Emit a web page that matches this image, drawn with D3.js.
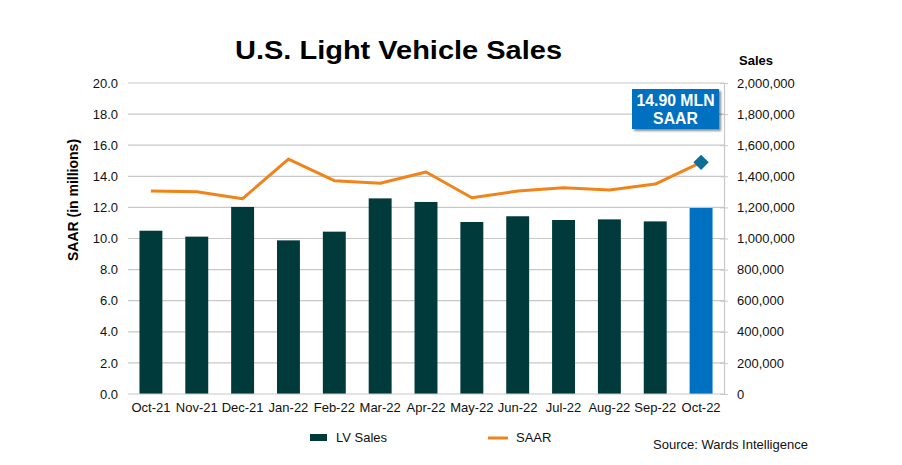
<!DOCTYPE html>
<html><head><meta charset="utf-8">
<script src="https://cdn.jsdelivr.net/npm/d3@7"></script>
<style>body{margin:0;background:#fff}svg{display:block;font-family:"Liberation Sans",Arial,sans-serif}</style>
</head><body><svg id="c" width="902" height="465"></svg>
<script>
const categories=["Oct-21","Nov-21","Dec-21","Jan-22","Feb-22","Mar-22","Apr-22","May-22","Jun-22","Jul-22","Aug-22","Sep-22","Oct-22"];
const lvSales=[1050000,1012000,1203000,988000,1044000,1258000,1235000,1106000,1143000,1119000,1123000,1110000,1196000];
const saar=[13.05,13.01,12.56,15.11,13.72,13.55,14.28,12.62,13.05,13.27,13.12,13.50,14.90];
const leftTicks=[0,2,4,6,8,10,12,14,16,18,20];
const rightTicks=[0,200000,400000,600000,800000,1000000,1200000,1400000,1600000,1800000,2000000];
const calloutText=["14.90 MLN","SAAR"];

const svg=d3.select("#c");
const L=128,R=724,T=83,B=394;
const x=d3.scaleBand().domain(categories).range([L,R]).paddingInner(0.5).paddingOuter(0.25);
const xc=d=>x(d)+x.bandwidth()/2;
const yL=d3.scaleLinear().domain([0,20]).range([B,T]);
const yR=d3.scaleLinear().domain([0,2000000]).range([B,T]);

// gridlines
svg.append("g").selectAll("line").data(leftTicks.filter(d=>d>0)).join("line")
  .attr("x1",L).attr("x2",R).attr("y1",d=>yL(d)).attr("y2",d=>yL(d))
  .attr("stroke","#c8c8c8").attr("stroke-width",1.2);

// left axis
const ga=svg.append("g").attr("transform",`translate(${L},0)`)
  .call(d3.axisLeft(yL).tickValues(leftTicks).tickFormat(d3.format(".1f")).tickSize(0).tickPadding(10));
ga.select(".domain").remove();
ga.selectAll("text").attr("font-size",13).attr("fill","#111").attr("font-family","Liberation Sans, Arial");

// right axis
const gr=svg.append("g").attr("transform",`translate(${R},0)`)
  .call(d3.axisRight(yR).tickValues(rightTicks).tickFormat(d=>d===0?"0":d3.format(",")(d)).tickSize(4).tickSizeOuter(0).tickPadding(9));
gr.select(".domain").attr("stroke","#c8c8c8").attr("stroke-width",1.2);
gr.selectAll(".tick line").attr("stroke","#c8c8c8").attr("x1",-4).attr("x2",4);
gr.selectAll("text").attr("font-size",13).attr("fill","#111").attr("font-family","Liberation Sans, Arial");

// bars
svg.append("g").selectAll("rect").data(categories).join("rect")
  .attr("x",d=>x(d)).attr("width",x.bandwidth())
  .attr("y",(d,i)=>yR(lvSales[i])).attr("height",(d,i)=>B-yR(lvSales[i]))
  .attr("fill",(d,i)=>i===categories.length-1?"#0070c0":"#003a3b");

// baseline
svg.append("line").attr("x1",L).attr("x2",R).attr("y1",B).attr("y2",B).attr("stroke","#c8c8c8").attr("stroke-width",1.2);

// x axis labels
const gx=svg.append("g").attr("transform",`translate(0,${B})`).call(d3.axisBottom(x).tickSize(0).tickPadding(9));
gx.select(".domain").remove();
gx.selectAll("text").attr("font-size",13).attr("fill","#111").attr("font-family","Liberation Sans, Arial");

// SAAR line
const line=d3.line().x((d,i)=>xc(categories[i])).y(d=>yL(d));
svg.append("path").datum(saar).attr("d",line).attr("fill","none").attr("stroke","#f0841a").attr("stroke-width",3).attr("stroke-linejoin","round");

// diamond marker
const last=saar.length-1;
svg.append("path").attr("d",d3.symbol().type(d3.symbolDiamond2).size(150)())
  .attr("transform",`translate(${xc(categories[last])},${yL(saar[last])})`).attr("fill","#0f6e95");

// callout
const defs=svg.append("defs");
const f=defs.append("filter").attr("id","sh").attr("x","-20%").attr("y","-20%").attr("width","150%").attr("height","150%");
f.append("feDropShadow").attr("dx",2).attr("dy",2).attr("stdDeviation",1.2).attr("flood-color","#000").attr("flood-opacity",0.45);
const bx=632,by=89,bw=87,bh=40;
svg.append("rect").attr("x",bx).attr("y",by).attr("width",bw).attr("height",bh).attr("fill","#0070c0").attr("filter","url(#sh)");
svg.append("text").attr("x",bx+bw/2).attr("y",by+17).attr("text-anchor","middle").attr("fill","#fff").attr("font-weight","bold").attr("font-size",15.8).text(calloutText[0]);
svg.append("text").attr("x",bx+bw/2).attr("y",by+35).attr("text-anchor","middle").attr("fill","#fff").attr("font-weight","bold").attr("font-size",15.8).text(calloutText[1]);

// titles
svg.append("text").attr("x",235).attr("y",58.5).attr("font-weight","bold").attr("font-size",26.5)
  .attr("textLength",327).attr("lengthAdjust","spacingAndGlyphs").attr("fill","#000").text("U.S. Light Vehicle Sales");
svg.append("text").attr("x",739).attr("y",65).attr("font-weight","bold").attr("font-size",13).attr("fill","#000").text("Sales");
svg.append("text").attr("transform","translate(78,200) rotate(-90)").attr("text-anchor","middle").attr("font-weight","bold").attr("font-size",14).attr("fill","#000").text("SAAR (in millions)");

// legend
svg.append("rect").attr("x",310).attr("y",434).attr("width",17).attr("height",7).attr("fill","#003a3b");
svg.append("text").attr("x",336).attr("y",442).attr("font-size",13).attr("fill","#111").text("LV Sales");
svg.append("line").attr("x1",488).attr("x2",508).attr("y1",438).attr("y2",438).attr("stroke","#f0841a").attr("stroke-width",3);
svg.append("text").attr("x",516).attr("y",442).attr("font-size",13).attr("fill","#111").text("SAAR");
svg.append("text").attr("x",653).attr("y",449).attr("font-size",13).attr("fill","#111").text("Source: Wards Intelligence");
</script></body></html>
